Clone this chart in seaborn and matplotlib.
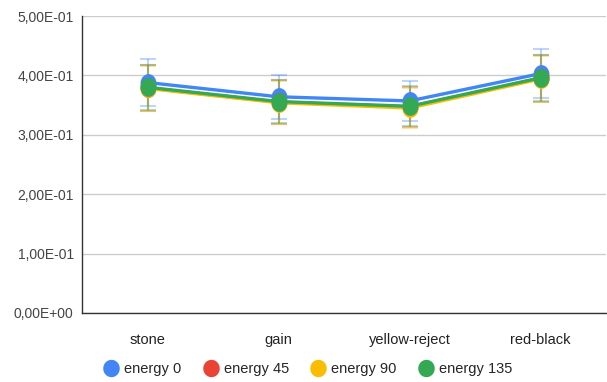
import numpy as np
import pandas as pd
import matplotlib
matplotlib.use("Agg")
import matplotlib.pyplot as plt
import seaborn as sns
from matplotlib.ticker import FuncFormatter
from matplotlib.lines import Line2D
from matplotlib.path import Path

categories = ["stone", "gain", "yellow-reject", "red-black"]
series_names = ["energy 0", "energy 45", "energy 90", "energy 135"]
colors = ["#4285F4", "#EA4335", "#FBBC04", "#34A853"]

energy_0 = [0.388, 0.364, 0.357, 0.403]
energy_45 = [0.379, 0.355, 0.347, 0.395]
energy_90 = [0.378, 0.354, 0.345, 0.394]
energy_135 = [0.380, 0.356, 0.348, 0.396]

err_0 = [0.039, 0.037, 0.034, 0.041]
err_45 = [0.039, 0.037, 0.034, 0.040]
err_90 = [0.038, 0.036, 0.034, 0.039]
err_135 = [0.038, 0.036, 0.034, 0.039]

values = [energy_0, energy_45, energy_90, energy_135]
errors = [err_0, err_45, err_90, err_135]

rows = []
for name, vals, errs in zip(series_names, values, errors):
    for c, v, e in zip(categories, vals, errs):
        rows.append({"category": c, "series": name, "value": v, "err": e})
df = pd.DataFrame(rows)

sns.set_theme(style="white")
plt.rcParams["font.family"] = ["Liberation Sans", "DejaVu Sans"]

# slightly tall ellipse used as the point marker
theta = np.linspace(0, 2 * np.pi, 60)
ellipse = Path(np.column_stack([0.85 * np.cos(theta), np.sin(theta)]), closed=True)

fig = plt.figure(figsize=(6.07, 3.82), dpi=100)
ax = fig.add_axes([82 / 607, 69 / 382, 524 / 607, 297 / 382])

palette = dict(zip(series_names, colors))
sns.lineplot(data=df, x="category", y="value", hue="series", palette=palette,
             sort=False, linewidth=2.4, marker=ellipse, markersize=13.5,
             markeredgewidth=0, ax=ax, legend=False, zorder=3)

xpos = {c: i for i, c in enumerate(categories)}
for name in series_names:
    sub = df[df["series"] == name]
    ax.errorbar(sub["category"].map(xpos), sub["value"], yerr=sub["err"],
                fmt="none", ecolor=palette[name], alpha=0.35,
                elinewidth=1.5, capsize=6, capthick=1.5, zorder=2)

ax.set_xlim(-0.5, len(categories) - 0.5)
ax.set_ylim(0, 0.5)
ax.set_yticks(np.arange(0, 0.51, 0.1))
ax.yaxis.set_major_formatter(FuncFormatter(
    lambda v, _: ("%.2E" % v).replace(".", ",")))
ax.grid(axis="y", color="#cccccc", linewidth=1)
ax.set_axisbelow(True)
for side in ["top", "right"]:
    ax.spines[side].set_visible(False)
for side in ["left", "bottom"]:
    ax.spines[side].set_color("#333333")
    ax.spines[side].set_linewidth(1)
ax.tick_params(axis="x", direction="inout", length=15, width=1,
               color="#333333", labelsize=10.5, labelcolor="#222222", pad=7)
ax.tick_params(axis="y", length=0, labelsize=10, labelcolor="#444444", pad=6)
ax.set_xlabel("")
ax.set_ylabel("")

circle = Path(np.column_stack([0.95 * np.cos(theta), np.sin(theta)]), closed=True)
handles = [Line2D([0], [0], marker=circle, linestyle="", markersize=12.5,
                  markerfacecolor=c, markeredgewidth=0) for c in colors]
fig.legend(handles, series_names, loc="center", bbox_to_anchor=(308 / 607, 1 - 369 / 382),
           ncol=4, frameon=False, fontsize=10.5, handletextpad=0.4,
           columnspacing=1.5, handlelength=1.0)

fig.savefig("out.png", dpi=100)
